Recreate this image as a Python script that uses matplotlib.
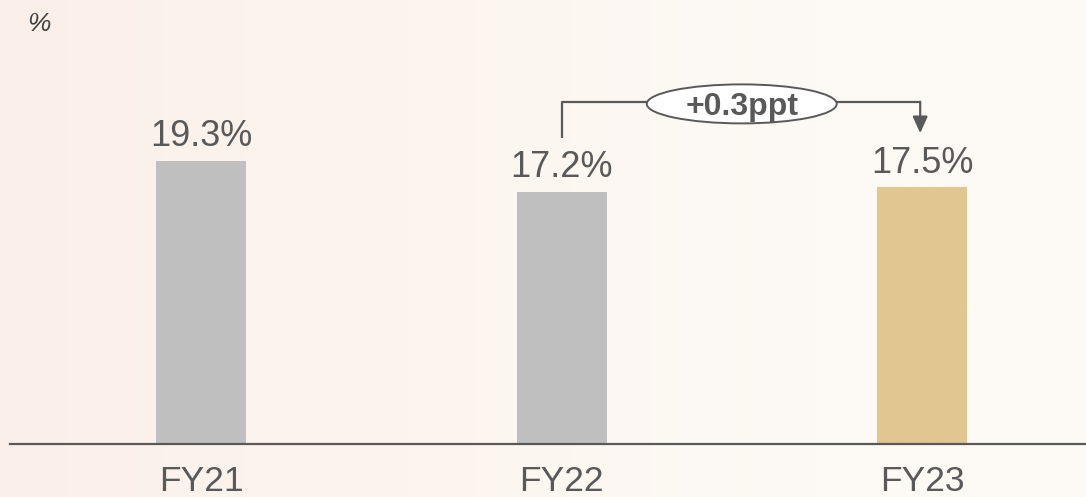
import numpy as np
import matplotlib
matplotlib.use("Agg")
import matplotlib.pyplot as plt
from matplotlib.patches import Ellipse

# Data
categories = ["FY21", "FY22", "FY23"]
values = [19.3, 17.2, 17.5]
bar_colors = ["#bfbfbf", "#bfbfbf", "#e2c68f"]
unit_label = "%"

W, H, DPI = 1086, 497, 100
fig = plt.figure(figsize=(W / DPI, H / DPI), dpi=DPI)

# Soft warm background gradient
bg = fig.add_axes([0, 0, 1, 1], zorder=-10)
gx = np.linspace(0, 1, 400)
left = np.array([251, 240, 233]) / 255
right = np.array([253, 250, 245]) / 255
t = np.clip(gx / 0.75, 0, 1)[None, :, None]
grad = left[None, None, :] * (1 - t) + right[None, None, :] * t
grad = np.repeat(grad, 10, axis=0)
bg.imshow(grad, aspect="auto", extent=[0, 1, 0, 1])
bg.axis("off")

# Main axes: baseline at 444 px from top, spanning x 10..1086 px
base_px = 444
ax = fig.add_axes([10 / W, (H - base_px) / H, 1 - 10 / W, base_px / H])
ax.patch.set_alpha(0)
px_per_cat = 360.5
x0_px = 201 - 10
ax.set_xlim(-x0_px / px_per_cat, -x0_px / px_per_cat + (W - 10) / px_per_cat)
px_per_unit = 14.66
ax.set_ylim(0, base_px / px_per_unit)

x = np.arange(len(categories))
bw = 90 / px_per_cat
ax.bar(x, values, width=bw, color=bar_colors, zorder=2)

for s in ["top", "right", "left"]:
    ax.spines[s].set_visible(False)
ax.spines["bottom"].set_color("#595959")
ax.spines["bottom"].set_linewidth(1.6)
ax.set_xticks([])
ax.set_yticks([])

txt_color = "#595959"
for xi, v in zip(x, values):
    ax.annotate(f"{v:.1f}%", (xi, v), xytext=(0, 5), textcoords="offset points",
                ha="center", va="bottom", fontsize=26, color=txt_color,
                family=["Liberation Sans", "DejaVu Sans"])

for xi, c in zip(x, categories):
    ax.annotate(c, (xi, 0), xytext=(0, -27), textcoords="offset points",
                ha="center", va="center", fontsize=25.5, color=txt_color,
                family=["Liberation Sans", "DejaVu Sans"])

fig.text(27 / W, 1 - 24 / H, unit_label, fontsize=19, style="italic",
         color="#404040", ha="left", va="center", family=["Liberation Sans", "DejaVu Sans"])

# Change bracket from FY22 to FY23
delta = values[2] - values[1]
y_top = 23.3
y_left_end = 20.9
y_arrow_end = 21.2
line_kw = dict(color="#595959", lw=1.6, zorder=3, solid_capstyle="butt")
ax.plot([x[1], x[1], x[2] - 0.005], [y_left_end, y_top, y_top], **line_kw)
ax.annotate("", xy=(x[2] - 0.005, y_arrow_end), xytext=(x[2] - 0.005, y_top + 0.05),
            arrowprops=dict(arrowstyle="-|>,head_length=1.0,head_width=0.45",
                            color="#595959", lw=1.6, shrinkA=0, shrinkB=0), zorder=3)
cx = (x[1] + x[2]) / 2
ell = Ellipse((cx, y_top - 0.1), width=190 / px_per_cat, height=39 / px_per_unit,
              facecolor="white", edgecolor="#595959", lw=1.4, zorder=4)
ax.add_patch(ell)
ax.text(cx, y_top - 0.85, f"+{delta:.1f}ppt", ha="center", va="baseline",
        fontsize=23, fontweight="bold", color=txt_color, zorder=5,
        family=["Liberation Sans", "DejaVu Sans"])

fig.savefig("out.png", dpi=DPI)
